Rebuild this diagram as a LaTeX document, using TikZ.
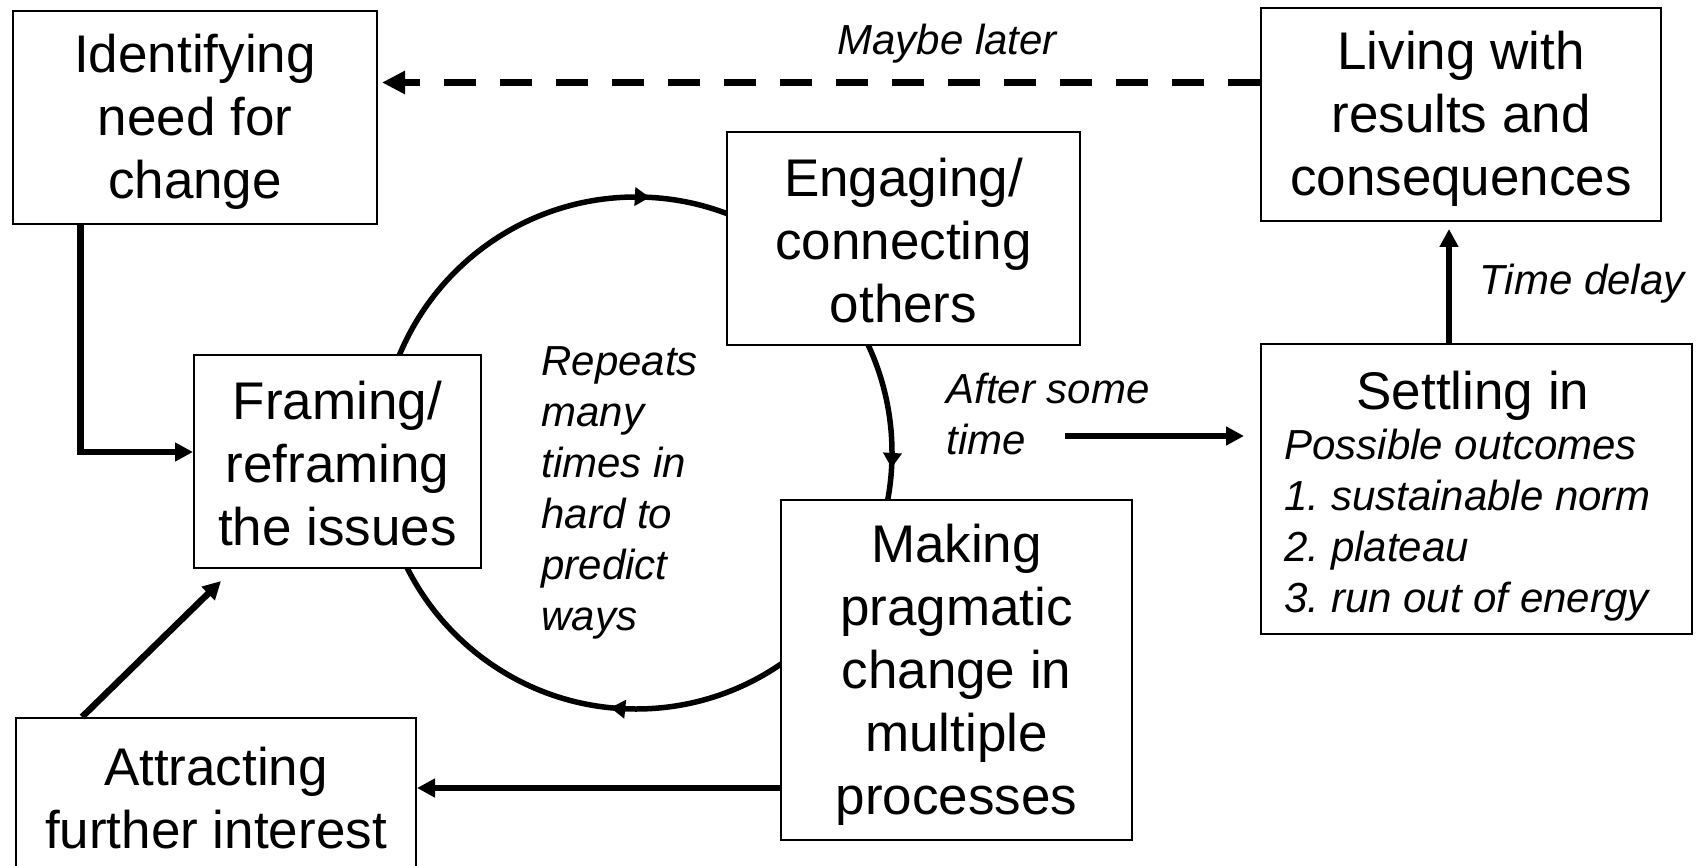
\documentclass[tikz,border=0pt]{standalone}
\usepackage{fontspec}
\setmainfont{Liberation Sans}
\usetikzlibrary{arrows.meta,decorations.markings}
\frenchspacing
\newcommand\boxfont{\fontsize{26.5}{31.5}\selectfont}
\newcommand\lblfont{\fontsize{21}{25.5}\selectfont\itshape}
\newcommand\ls{\rule[-0.112em]{0pt}{1.017em}}
\begin{document}
\begin{tikzpicture}[x=0.5pt,y=-0.5pt,
  box/.style={draw, line width=1pt, fill=white, inner sep=0pt, align=center, font=\boxfont},
  conn/.style={line width=3.25pt, -{Triangle[length=9pt,width=9pt]}},
  dashconn/.style={line width=3.5pt, dash pattern=on 16pt off 12pt, -{Triangle[length=11.5pt,width=11pt]}},
  lbl/.style={inner sep=0pt, anchor=base west, font=\lblfont},
  cyc/.style={line width=2.75pt}
]
\path[use as bounding box] (0,0) rectangle (1697,866);
\clip (0,0) rectangle (1697,866);

% cycle
\draw[cyc, postaction={decorate}, decoration={markings,
   mark=at position 0.2586 with {\arrow{Triangle[length=7.5pt,width=9pt]}},
   mark=at position 0.5093 with {\arrow{Triangle[length=7.5pt,width=9pt]}},
   mark=at position 0.766 with {\arrow{Triangle[length=7.5pt,width=9pt]}}}]
   (380,453) arc[start angle=180, end angle=540, radius=256];

% boxes
\node[box, minimum width=182pt, minimum height=106.5pt] (ident) at (195,117.5)
  {\ls Identifying\\\ls need for\\\ls change};
\node[box, minimum width=200pt, minimum height=106.5pt] (living) at (1461,114.5)
  {\ls Living with\\\ls results and\\\ls consequences};
\node[box, minimum width=176.5pt, minimum height=106.5pt] (engage) at (903.5,238.5)
  {\ls Engaging/\\\ls connecting\\\ls others};
\node[box, minimum width=143.5pt, minimum height=106.5pt] (frame) at (337.5,461.5)
  {\ls Framing/\\\ls reframing\\\ls the issues};
\node[box, minimum width=175.5pt, minimum height=170pt] (making) at (956.5,670)
  {\ls Making\\\ls pragmatic\\\ls change in\\\ls multiple\\\ls processes};
\node[box, minimum width=200pt, minimum height=77.5pt] (attract) at (216,795.5)
  {\ls Attracting\\\ls further interest};
\node[box, minimum width=215.5pt, minimum height=145pt] (settle) at (1476.5,489) {};
\node[inner sep=0pt, anchor=base, font=\boxfont] (settletitle) at (1473,409) {Settling in};
\node[lbl] (outcomes) at (1284,459)
  {\begin{tabular}[t]{@{}l@{}}Possible outcomes\\1. sustainable norm\\2. plateau\\3. run out of energy\end{tabular}};

% labels
\node[lbl] (maybe) at (837,55) {Maybe later};
\node[lbl] (repeats) at (541,375)
  {\begin{tabular}[t]{@{}l@{}}Repeats\\many\\times in\\hard to\\predict\\ways\end{tabular}};
\node[lbl] (after) at (946,403)
  {\begin{tabular}[t]{@{}l@{}}After some\\time\end{tabular}};
\node[lbl] (delay) at (1479,294) {Time delay};

% connectors
\draw[dashconn, shorten >=2pt] ([yshift=16pt]living.west) -- ([yshift=17.5pt]ident.east);
\draw[conn] ([xshift=34.25pt]ident.south west) |- ([yshift=4.75pt]frame.west);
\draw[conn] ([xshift=33.5pt]attract.north west) -- ([xshift=14pt,yshift=-6pt]frame.south west);
\coordinate (mk) at ([yshift=-59pt]making.west);
\draw[conn] (mk) -- (mk -| attract.east);
\coordinate (ast) at (1065,436);
\draw[conn, shorten >=8pt] (ast) -- (ast -| settle.west);
\coordinate (sn) at ([xshift=-13.75pt]settle.north);
\draw[conn, shorten >=3.5pt] (sn) -- (sn |- living.south);
\end{tikzpicture}
\end{document}
